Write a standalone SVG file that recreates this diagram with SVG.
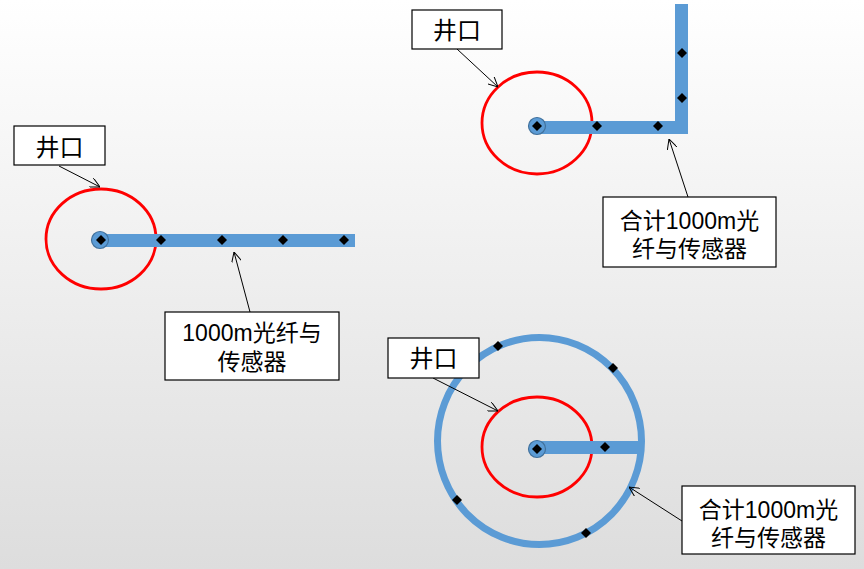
<svg xmlns="http://www.w3.org/2000/svg" xmlns:xlink="http://www.w3.org/1999/xlink" width="864" height="569" viewBox="0 0 864 569">
<defs>
<linearGradient id="bg" x1="0" y1="0" x2="0" y2="1">
<stop offset="0" stop-color="#ffffff"/>
<stop offset="1" stop-color="#dddddd"/>
</linearGradient>
<marker id="ar" viewBox="0 0 10 10" refX="10" refY="5" markerWidth="10" markerHeight="10" markerUnits="userSpaceOnUse" orient="auto">
<path d="M0,0 L10,5 L0,10" fill="none" stroke="#000" stroke-width="1"/>
</marker>
<path id="dm" d="M0,-5 L5,0 L0,5 L-5,0Z" fill="#000"/>
</defs>
<style>
.lbl{fill:#fff;stroke:#000;stroke-width:1.2}
.t{font-family:"Liberation Sans","Noto Sans CJK SC",sans-serif;font-size:23px;fill:#000;text-anchor:middle}
.big{font-size:24px}
.red{fill:none;stroke:#ff0000;stroke-width:2.8}
.fib{fill:#5b9bd5}
.hub{fill:#5b9bd5;stroke:#41719c;stroke-width:1.2}
.con{fill:none;stroke:#000;stroke-width:1;marker-end:url(#ar)}
</style>
<rect x="0" y="0" width="864" height="569" fill="url(#bg)"/>

<g id="scene1">
<ellipse class="red" cx="101" cy="239" rx="55" ry="50"/>
<rect class="fib" x="100" y="234" width="255" height="13"/>
<circle class="hub" cx="100" cy="240" r="8.5"/>
<use xlink:href="#dm" x="101" y="240"/>
<use xlink:href="#dm" x="161" y="240"/>
<use xlink:href="#dm" x="222" y="240"/>
<use xlink:href="#dm" x="283" y="240"/>
<use xlink:href="#dm" x="344" y="240"/>
</g>

<g id="scene2">
<ellipse class="red" cx="537" cy="123" rx="55" ry="51"/>
<rect class="fib" x="537" y="121" width="151" height="13"/>
<rect class="fib" x="675" y="4" width="13" height="130"/>
<circle class="hub" cx="537" cy="126" r="8.5"/>
<use xlink:href="#dm" x="537" y="126"/>
<use xlink:href="#dm" x="597" y="126"/>
<use xlink:href="#dm" x="658" y="126"/>
<use xlink:href="#dm" x="682" y="98"/>
<use xlink:href="#dm" x="682" y="53"/>
</g>

<g id="scene3">
<ellipse cx="539.5" cy="441" rx="102" ry="103.5" fill="none" stroke="#5b9bd5" stroke-width="7"/>
<ellipse class="red" cx="537" cy="447" rx="55" ry="50"/>
<rect class="fib" x="537" y="441" width="105" height="13"/>
<circle class="hub" cx="537" cy="449" r="8.5"/>
<use xlink:href="#dm" x="537" y="449"/>
<use xlink:href="#dm" x="605" y="447"/>
<use xlink:href="#dm" x="498" y="346"/>
<use xlink:href="#dm" x="613" y="368"/>
<use xlink:href="#dm" x="457" y="500"/>
<use xlink:href="#dm" x="586" y="533"/>
</g>

<g id="connectors">
<line class="con" x1="59" y1="166" x2="100" y2="187"/>
<line class="con" x1="250" y1="312" x2="234" y2="252"/>
<line class="con" x1="457" y1="49" x2="498" y2="87"/>
<line class="con" x1="688" y1="197" x2="669" y2="139"/>
<line class="con" x1="433" y1="378" x2="498" y2="411"/>
<line class="con" x1="682" y1="521" x2="629" y2="487"/>
</g>

<g id="label1">
<rect class="lbl" x="14" y="126" width="91" height="39"/>
<text class="t big" x="59.5" y="156">井口</text>
</g>
<g id="label2">
<rect class="lbl" x="165" y="312" width="174" height="68"/>
<text class="t" x="252" y="341">1000m光纤与</text>
<text class="t" x="252" y="370">传感器</text>
</g>
<g id="label3">
<rect class="lbl" x="412" y="10" width="90" height="39"/>
<text class="t big" x="457" y="39">井口</text>
</g>
<g id="label4">
<rect class="lbl" x="603" y="197" width="173" height="70"/>
<text class="t" x="689.5" y="229">合计1000m光</text>
<text class="t" x="689.5" y="257">纤与传感器</text>
</g>
<g id="label5">
<rect class="lbl" x="388" y="338" width="91" height="40"/>
<text class="t big" x="433.5" y="367">井口</text>
</g>
<g id="label6">
<rect class="lbl" x="682" y="486" width="173" height="68"/>
<text class="t" x="768.5" y="518">合计1000m光</text>
<text class="t" x="768.5" y="546">纤与传感器</text>
</g>
</svg>
